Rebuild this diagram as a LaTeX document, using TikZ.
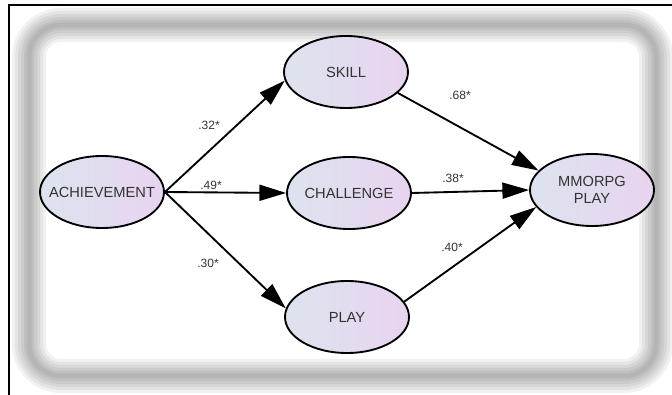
\documentclass[tikz,border=0pt]{standalone}
\usepackage{fontspec}
\setmainfont{Liberation Sans}
\usetikzlibrary{arrows.meta,shapes.geometric,positioning}
\definecolor{ellleft}{HTML}{DDE3EE}
\definecolor{ellright}{HTML}{E8D4F0}
\definecolor{txtgrey}{HTML}{333333}
\newcommand{\lbl}[1]{\makebox[0pt]{#1}}

\begin{document}
\begin{tikzpicture}[
  x=0.75pt, y=-0.75pt,
  every node/.style={font=\fontsize{11}{12.5}\selectfont, text=txtgrey},
  latent/.style={ellipse, draw=black, line width=1.4pt, left color=ellleft,
                 right color=ellright, minimum width=93pt, minimum height=54pt,
                 inner sep=0pt, align=center},
  effect/.style={line width=1.4pt, -{Triangle[length=20pt, width=12pt]}},
  coef/.style={font=\fontsize{9}{10}\selectfont},
]
\useasboundingbox (0,0) rectangle (672,395);

%% Blurred frame
\foreach \w in {34,28,22,16,10,5} {
  \draw[black, opacity=0.055, line width=\w*0.75pt, rounded corners=24pt]
    (29,25) rectangle (656,376);
}
\draw[line width=1.5pt] (9,395) -- (9,5) -- (672,5);

%% Latent variables
\node[latent] (ach)   at (102,192) {\lbl{ACHIEVEMENT}};
\node[latent] (skill) at (346,72)  {\lbl{SKILL}};
\node[latent] (chal)  at (349,193) {\lbl{CHALLENGE}};
\node[latent] (play)  at (347,317) {\lbl{PLAY}};
\node[latent] (mmo)   at (592,190) {\lbl{MMORPG}\\\lbl{PLAY}};

%% Paths
\draw[effect] (ach.east) -- (skill.188);
\draw[effect] (ach.east) -- (chal.west);
\draw[effect] (ach.east) -- (play.172);
\draw[effect] (skill.-22) -- (mmo.160);
\draw[effect] (chal.east) -- (mmo.west);
\draw[effect] (play.15) -- (mmo.197);

%% Coefficients
\node[coef] (c32) at (209,125) {.32*};
\node[coef] (c49) at (211,185) {.49*};
\node[coef] (c30) at (208,263) {.30*};
\node[coef] (c68) at (460,95)  {.68*};
\node[coef] (c38) at (453,178) {.38*};
\node[coef] (c40) at (452,247) {.40*};

\end{tikzpicture}
\end{document}
